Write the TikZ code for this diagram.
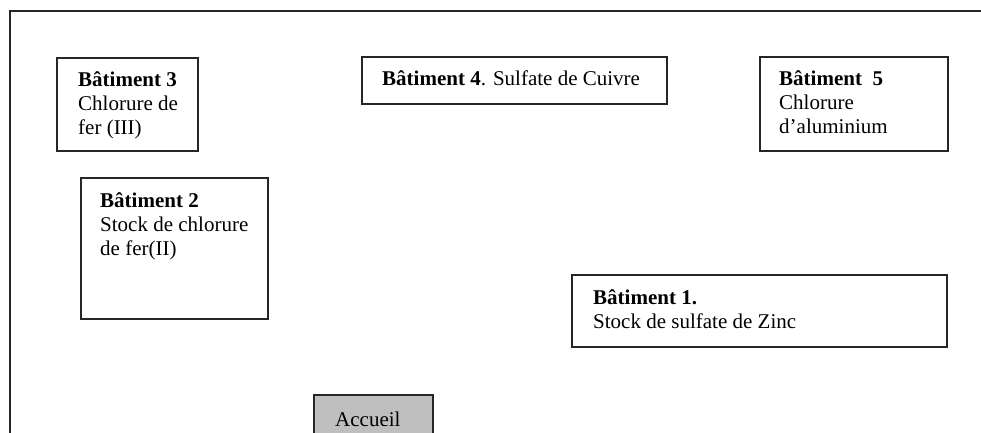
\documentclass[tikz,border=0pt]{standalone}
\usepackage{fontspec}
\setmainfont{Liberation Serif}
\usepackage{tikz}

\begin{document}
\begin{tikzpicture}
	 [x=1pt,y=-1pt,every node/.style={inner sep=0pt,font=\fontsize{21}{24}\selectfont},
	  bat/.style={draw=black!85,line width=1.5pt,anchor=north west},
	  txt/.style={anchor=north west,align=left}]
	\useasboundingbox (0,0) rectangle (981,432);

	% site frame, runs off the page right and bottom
	\draw[line width=1.5pt,black!85] (10,11) rectangle (1000,470);

	\node[bat,minimum width=141,minimum height=93] (b3) at (56,57) {};
	  \node[txt] (t3) at (78,71) {\textbf{Bâtiment 3}\\Chlorure de\\fer (III)};

	\node[bat,minimum width=305,minimum height=47] (b4) at (361,56) {};
	  \node[txt] (t4) at (382,70) {\textbf{Bâtiment 4}. Sulfate de Cuivre};

	\node[bat,minimum width=188,minimum height=94] (b5) at (759,56) {};
	  \node[txt] (t5) at (779,70) {\textbf{Bâtiment \ 5}\\Chlorure\\d'aluminium};

	\node[bat,minimum width=187,minimum height=141] (b2) at (80,177) {};
	  \node[txt] (t2) at (100,192) {\textbf{Bâtiment 2}\\Stock de chlorure\\de fer(II)};

	\node[bat,minimum width=375,minimum height=72] (b1) at (571,274) {};
	  \node[txt] (t1) at (593,289) {\textbf{Bâtiment 1.}\\Stock de sulfate de Zinc};

	\node[bat,fill=black!25,minimum width=119,minimum height=70] (acc) at (313,394) {};
	  \node[txt] (ta) at (335,412) {Accueil};

\end{tikzpicture}
\end{document}
